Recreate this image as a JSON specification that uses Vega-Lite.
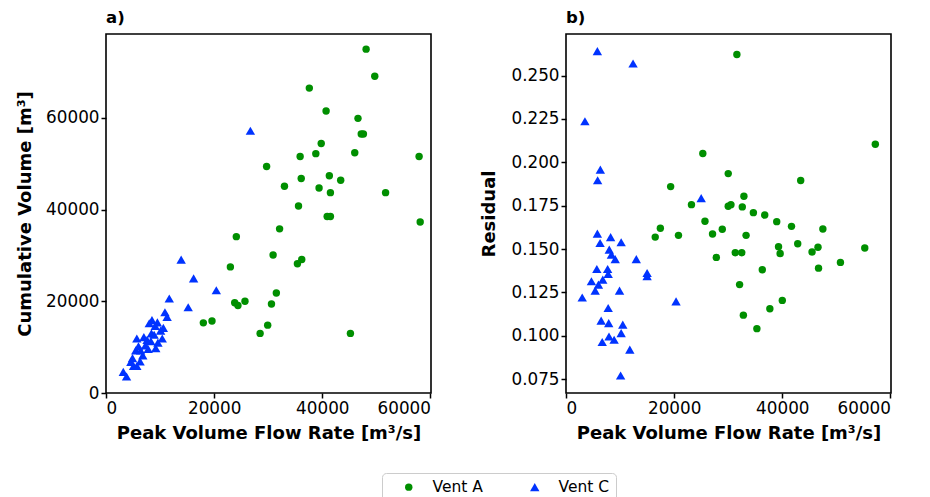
{
  "$schema": "https://vega.github.io/schema/vega-lite/v6.json",
  "background": "white",
  "padding": {"left": 15, "top": 8, "right": 10, "bottom": 5},
  "bounds": "flush",
  "spacing": 135,
  "config": {
    "font": "DejaVu Sans",
    "view": {"stroke": "black", "strokeWidth": 1.6},
    "axis": {"grid": false, "domain": false, "tickColor": "black", "tickWidth": 1.5, "tickSize": 5, "labelColor": "black", "titleColor": "black", "labelFontSize": 16.8, "titleFontSize": 18, "titleFontWeight": "bold", "labelFont": "DejaVu Sans", "titleFont": "DejaVu Sans", "labelPadding": 2},
    "title": {"fontSize": 16.5, "fontWeight": "bold", "anchor": "start", "frame": "group", "color": "black", "offset": 8, "font": "DejaVu Sans"},
    "legend": {"orient": "none", "legendX": 276, "legendY": 439, "direction": "horizontal", "columns": 2, "title": null, "labelFontSize": 15.5, "labelFont": "DejaVu Sans", "labelColor": "black", "strokeColor": "#cccccc", "fillColor": "white", "cornerRadius": 4, "padding": 6, "symbolOffset": 13, "labelOffset": 16, "columnPadding": 31}
  },
  "datasets": {
    "a": [
      {"flow": 48100, "val": 75000, "vent": "Vent A"},
      {"flow": 49700, "val": 69100, "vent": "Vent A"},
      {"flow": 37600, "val": 66500, "vent": "Vent A"},
      {"flow": 40700, "val": 61500, "vent": "Vent A"},
      {"flow": 46600, "val": 59900, "vent": "Vent A"},
      {"flow": 47200, "val": 56500, "vent": "Vent A"},
      {"flow": 47600, "val": 56500, "vent": "Vent A"},
      {"flow": 39800, "val": 54400, "vent": "Vent A"},
      {"flow": 38800, "val": 52200, "vent": "Vent A"},
      {"flow": 35900, "val": 51600, "vent": "Vent A"},
      {"flow": 46000, "val": 52400, "vent": "Vent A"},
      {"flow": 57900, "val": 51600, "vent": "Vent A"},
      {"flow": 29700, "val": 49400, "vent": "Vent A"},
      {"flow": 36100, "val": 46800, "vent": "Vent A"},
      {"flow": 41300, "val": 47400, "vent": "Vent A"},
      {"flow": 43400, "val": 46400, "vent": "Vent A"},
      {"flow": 33000, "val": 45100, "vent": "Vent A"},
      {"flow": 39400, "val": 44700, "vent": "Vent A"},
      {"flow": 41500, "val": 43700, "vent": "Vent A"},
      {"flow": 51700, "val": 43700, "vent": "Vent A"},
      {"flow": 35600, "val": 40800, "vent": "Vent A"},
      {"flow": 40900, "val": 38500, "vent": "Vent A"},
      {"flow": 41500, "val": 38500, "vent": "Vent A"},
      {"flow": 58100, "val": 37300, "vent": "Vent A"},
      {"flow": 32100, "val": 35800, "vent": "Vent A"},
      {"flow": 24100, "val": 34100, "vent": "Vent A"},
      {"flow": 30900, "val": 30100, "vent": "Vent A"},
      {"flow": 36200, "val": 29100, "vent": "Vent A"},
      {"flow": 35400, "val": 28200, "vent": "Vent A"},
      {"flow": 23000, "val": 27500, "vent": "Vent A"},
      {"flow": 31500, "val": 21800, "vent": "Vent A"},
      {"flow": 25700, "val": 20000, "vent": "Vent A"},
      {"flow": 23800, "val": 19700, "vent": "Vent A"},
      {"flow": 24400, "val": 19100, "vent": "Vent A"},
      {"flow": 30600, "val": 19400, "vent": "Vent A"},
      {"flow": 18000, "val": 15300, "vent": "Vent A"},
      {"flow": 19600, "val": 15700, "vent": "Vent A"},
      {"flow": 29900, "val": 14800, "vent": "Vent A"},
      {"flow": 28500, "val": 13000, "vent": "Vent A"},
      {"flow": 45200, "val": 13000, "vent": "Vent A"},
      {"flow": 26700, "val": 57200, "vent": "Vent C"},
      {"flow": 13900, "val": 29100, "vent": "Vent C"},
      {"flow": 16200, "val": 25000, "vent": "Vent C"},
      {"flow": 20400, "val": 22400, "vent": "Vent C"},
      {"flow": 11700, "val": 20600, "vent": "Vent C"},
      {"flow": 15200, "val": 18700, "vent": "Vent C"},
      {"flow": 10900, "val": 17600, "vent": "Vent C"},
      {"flow": 11300, "val": 16600, "vent": "Vent C"},
      {"flow": 8500, "val": 15900, "vent": "Vent C"},
      {"flow": 9500, "val": 15400, "vent": "Vent C"},
      {"flow": 8000, "val": 15200, "vent": "Vent C"},
      {"flow": 10600, "val": 14200, "vent": "Vent C"},
      {"flow": 8400, "val": 13000, "vent": "Vent C"},
      {"flow": 5700, "val": 11900, "vent": "Vent C"},
      {"flow": 7000, "val": 12200, "vent": "Vent C"},
      {"flow": 10400, "val": 11900, "vent": "Vent C"},
      {"flow": 8300, "val": 11300, "vent": "Vent C"},
      {"flow": 9600, "val": 11000, "vent": "Vent C"},
      {"flow": 7300, "val": 10400, "vent": "Vent C"},
      {"flow": 5500, "val": 9300, "vent": "Vent C"},
      {"flow": 6400, "val": 9300, "vent": "Vent C"},
      {"flow": 7800, "val": 9600, "vent": "Vent C"},
      {"flow": 9200, "val": 9800, "vent": "Vent C"},
      {"flow": 6800, "val": 8200, "vent": "Vent C"},
      {"flow": 4600, "val": 6800, "vent": "Vent C"},
      {"flow": 6300, "val": 6900, "vent": "Vent C"},
      {"flow": 5100, "val": 5900, "vent": "Vent C"},
      {"flow": 5700, "val": 5900, "vent": "Vent C"},
      {"flow": 3200, "val": 4600, "vent": "Vent C"},
      {"flow": 3800, "val": 3600, "vent": "Vent C"},
      {"flow": 6000, "val": 10200, "vent": "Vent C"},
      {"flow": 7600, "val": 11600, "vent": "Vent C"},
      {"flow": 8900, "val": 12700, "vent": "Vent C"},
      {"flow": 9100, "val": 14600, "vent": "Vent C"},
      {"flow": 4900, "val": 7600, "vent": "Vent C"},
      {"flow": 10100, "val": 13600, "vent": "Vent C"}
    ],
    "b": [
      {"flow": 31600, "val": 0.2622, "vent": "Vent A"},
      {"flow": 57200, "val": 0.2104, "vent": "Vent A"},
      {"flow": 25300, "val": 0.2051, "vent": "Vent A"},
      {"flow": 30000, "val": 0.1935, "vent": "Vent A"},
      {"flow": 43400, "val": 0.1895, "vent": "Vent A"},
      {"flow": 19350, "val": 0.1860, "vent": "Vent A"},
      {"flow": 32900, "val": 0.1804, "vent": "Vent A"},
      {"flow": 23200, "val": 0.1756, "vent": "Vent A"},
      {"flow": 30000, "val": 0.1747, "vent": "Vent A"},
      {"flow": 30500, "val": 0.1756, "vent": "Vent A"},
      {"flow": 32600, "val": 0.1743, "vent": "Vent A"},
      {"flow": 34650, "val": 0.1710, "vent": "Vent A"},
      {"flow": 36750, "val": 0.1696, "vent": "Vent A"},
      {"flow": 38970, "val": 0.1658, "vent": "Vent A"},
      {"flow": 41700, "val": 0.1631, "vent": "Vent A"},
      {"flow": 47500, "val": 0.1616, "vent": "Vent A"},
      {"flow": 25700, "val": 0.1660, "vent": "Vent A"},
      {"flow": 17450, "val": 0.1620, "vent": "Vent A"},
      {"flow": 16500, "val": 0.1569, "vent": "Vent A"},
      {"flow": 20800, "val": 0.1579, "vent": "Vent A"},
      {"flow": 27100, "val": 0.1587, "vent": "Vent A"},
      {"flow": 28900, "val": 0.1614, "vent": "Vent A"},
      {"flow": 33300, "val": 0.1579, "vent": "Vent A"},
      {"flow": 39300, "val": 0.1514, "vent": "Vent A"},
      {"flow": 39600, "val": 0.1474, "vent": "Vent A"},
      {"flow": 42850, "val": 0.1531, "vent": "Vent A"},
      {"flow": 46600, "val": 0.1510, "vent": "Vent A"},
      {"flow": 45500, "val": 0.1483, "vent": "Vent A"},
      {"flow": 55250, "val": 0.1506, "vent": "Vent A"},
      {"flow": 31300, "val": 0.1479, "vent": "Vent A"},
      {"flow": 32500, "val": 0.1479, "vent": "Vent A"},
      {"flow": 27800, "val": 0.1452, "vent": "Vent A"},
      {"flow": 50750, "val": 0.1423, "vent": "Vent A"},
      {"flow": 36300, "val": 0.1381, "vent": "Vent A"},
      {"flow": 46700, "val": 0.1390, "vent": "Vent A"},
      {"flow": 32100, "val": 0.1295, "vent": "Vent A"},
      {"flow": 40000, "val": 0.1204, "vent": "Vent A"},
      {"flow": 37700, "val": 0.1156, "vent": "Vent A"},
      {"flow": 32800, "val": 0.1119, "vent": "Vent A"},
      {"flow": 35300, "val": 0.1041, "vent": "Vent A"},
      {"flow": 5800, "val": 0.2641, "vent": "Vent C"},
      {"flow": 12400, "val": 0.2570, "vent": "Vent C"},
      {"flow": 3500, "val": 0.2237, "vent": "Vent C"},
      {"flow": 6350, "val": 0.1958, "vent": "Vent C"},
      {"flow": 5850, "val": 0.1897, "vent": "Vent C"},
      {"flow": 25000, "val": 0.1794, "vent": "Vent C"},
      {"flow": 5800, "val": 0.1589, "vent": "Vent C"},
      {"flow": 6300, "val": 0.1535, "vent": "Vent C"},
      {"flow": 8250, "val": 0.1569, "vent": "Vent C"},
      {"flow": 10200, "val": 0.1539, "vent": "Vent C"},
      {"flow": 8000, "val": 0.1497, "vent": "Vent C"},
      {"flow": 8400, "val": 0.1468, "vent": "Vent C"},
      {"flow": 9100, "val": 0.1442, "vent": "Vent C"},
      {"flow": 13000, "val": 0.1442, "vent": "Vent C"},
      {"flow": 5700, "val": 0.1385, "vent": "Vent C"},
      {"flow": 7700, "val": 0.1385, "vent": "Vent C"},
      {"flow": 7800, "val": 0.1356, "vent": "Vent C"},
      {"flow": 15000, "val": 0.1362, "vent": "Vent C"},
      {"flow": 15000, "val": 0.1343, "vent": "Vent C"},
      {"flow": 6800, "val": 0.1324, "vent": "Vent C"},
      {"flow": 4700, "val": 0.1314, "vent": "Vent C"},
      {"flow": 6000, "val": 0.1295, "vent": "Vent C"},
      {"flow": 5400, "val": 0.1260, "vent": "Vent C"},
      {"flow": 9900, "val": 0.1260, "vent": "Vent C"},
      {"flow": 3000, "val": 0.1221, "vent": "Vent C"},
      {"flow": 20350, "val": 0.1198, "vent": "Vent C"},
      {"flow": 7800, "val": 0.1160, "vent": "Vent C"},
      {"flow": 6500, "val": 0.1087, "vent": "Vent C"},
      {"flow": 7900, "val": 0.1073, "vent": "Vent C"},
      {"flow": 10500, "val": 0.1064, "vent": "Vent C"},
      {"flow": 10200, "val": 0.1015, "vent": "Vent C"},
      {"flow": 7950, "val": 0.0996, "vent": "Vent C"},
      {"flow": 8900, "val": 0.0977, "vent": "Vent C"},
      {"flow": 6700, "val": 0.0964, "vent": "Vent C"},
      {"flow": 11800, "val": 0.0920, "vent": "Vent C"},
      {"flow": 10100, "val": 0.0771, "vent": "Vent C"}
    ]
  },
  "hconcat": [
    {
      "width": 325,
      "height": 359,
      "title": "a)",
      "data": {"name": "a"},
      "mark": {"type": "point", "filled": true, "opacity": 1},
      "encoding": {
        "x": {"field": "flow", "type": "quantitative", "scale": {"domain": [0, 60100], "nice": false, "zero": false}, "axis": {"values": [0, 20000, 40000, 60000], "format": "d", "title": "Peak Volume Flow Rate [m³/s]", "titlePadding": 8}},
        "y": {"field": "val", "type": "quantitative", "scale": {"domain": [0, 78300], "nice": false, "zero": false}, "axis": {"values": [0, 20000, 40000, 60000], "format": "d", "title": "Cumulative Volume [m³]", "titlePadding": 11}},
        "color": {"field": "vent", "type": "nominal", "scale": {"domain": ["Vent A", "Vent C"], "range": ["#008f00", "#0033ff"]}},
        "shape": {"field": "vent", "type": "nominal", "scale": {"domain": ["Vent A", "Vent C"], "range": ["circle", "triangle-up"]}},
        "size": {"field": "vent", "type": "nominal", "scale": {"domain": ["Vent A", "Vent C"], "range": [55, 88]}}
      }
    },
    {
      "width": 325,
      "height": 359,
      "title": "b)",
      "data": {"name": "b"},
      "mark": {"type": "point", "filled": true, "opacity": 1},
      "encoding": {
        "x": {"field": "flow", "type": "quantitative", "scale": {"domain": [0, 60100], "nice": false, "zero": false}, "axis": {"values": [0, 20000, 40000, 60000], "format": "d", "title": "Peak Volume Flow Rate [m³/s]", "titlePadding": 8}},
        "y": {"field": "val", "type": "quantitative", "scale": {"domain": [0.067, 0.274], "nice": false, "zero": false}, "axis": {"values": [0.075, 0.1, 0.125, 0.15, 0.175, 0.2, 0.225, 0.25], "format": ".3f", "title": "Residual", "titlePadding": 12}},
        "color": {"field": "vent", "type": "nominal", "scale": {"domain": ["Vent A", "Vent C"], "range": ["#008f00", "#0033ff"]}},
        "shape": {"field": "vent", "type": "nominal", "scale": {"domain": ["Vent A", "Vent C"], "range": ["circle", "triangle-up"]}},
        "size": {"field": "vent", "type": "nominal", "scale": {"domain": ["Vent A", "Vent C"], "range": [55, 88]}}
      }
    }
  ]
}
